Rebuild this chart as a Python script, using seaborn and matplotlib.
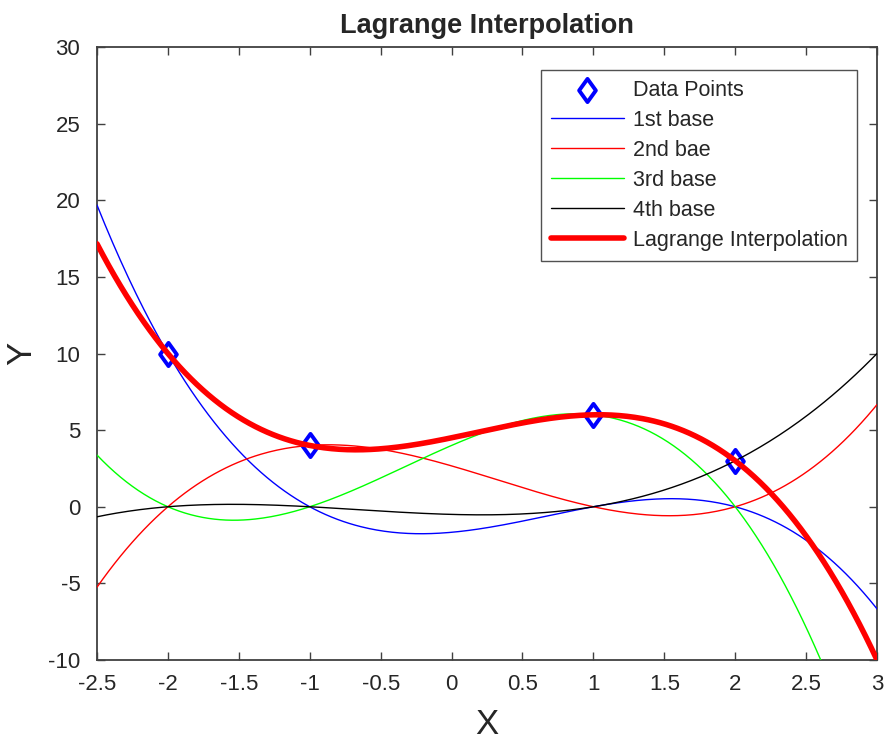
import numpy as np
import pandas as pd
import matplotlib
matplotlib.use("Agg")
import matplotlib.pyplot as plt
from matplotlib.path import Path
import seaborn as sns

# Data points
x_pts = [-2, -1, 1, 2]
y_pts = [10, 4, 6, 3]
series_names = ["1st base", "2nd bae", "3rd base", "4th base"]
series_colors = ["#0000ff", "#ff0000", "#00ff00", "#000000"]
x_ticks = [-2.5, -2, -1.5, -1, -0.5, 0, 0.5, 1, 1.5, 2, 2.5, 3]
y_ticks = [-10, -5, 0, 5, 10, 15, 20, 25, 30]

sns.set_theme(style="white")
plt.rcParams['font.family'] = ['Liberation Sans', 'DejaVu Sans']

# Lagrange basis terms y_i * L_i(x) over the plotted domain
xs = np.linspace(-2.5, 3, 400)
frames = []
total = np.zeros_like(xs)
for i, (xi, yi) in enumerate(zip(x_pts, y_pts)):
    L = np.ones_like(xs)
    for j, xj in enumerate(x_pts):
        if j != i:
            L *= (xs - xj) / (xi - xj)
    term = yi * L
    total += term
    frames.append(pd.DataFrame({"x": xs, "y": term, "series": series_names[i]}))
df = pd.concat(frames)

diamond = Path([(0, 1), (0.72, 0), (0, -1), (-0.72, 0), (0, 1)],
               [Path.MOVETO, Path.LINETO, Path.LINETO, Path.LINETO, Path.CLOSEPOLY])

fig = plt.figure(figsize=(8.85, 7.45), dpi=100)
ax = fig.add_axes([0.1096, 0.1141, 0.8814, 0.8228])

sns.scatterplot(x=x_pts, y=y_pts, ax=ax, marker=diamond, s=280, facecolor="white",
                edgecolor="#0000ff", linewidth=2.8, label="Data Points", zorder=2)
sns.lineplot(data=df, x="x", y="y", hue="series", palette=series_colors,
             hue_order=series_names, ax=ax, linewidth=1.0, legend=True, zorder=3)
sns.lineplot(x=xs, y=total, ax=ax, color="#ff0000", linewidth=4,
             label="Lagrange Interpolation", zorder=4)

ax.set_xlim(-2.5, 3)
ax.set_ylim(-10, 30)
ax.set_xticks(x_ticks)
ax.set_xticklabels([f"{t:g}" for t in x_ticks])
ax.set_yticks(y_ticks)
ax.set_yticklabels([f"{t:g}" for t in y_ticks])
ax.tick_params(axis="both", direction="in", length=6, width=1, colors="#404040",
               labelsize=16, labelcolor="#262626", top=True, right=True,
               bottom=True, left=True)
ax.tick_params(axis="x", pad=10)
ax.tick_params(axis="y", pad=12)
for s in ax.spines.values():
    s.set_color("#404040")
    s.set_linewidth(1.3)
    s.set_visible(True)

ax.set_xlabel("X", fontsize=25)
ax.set_ylabel("Y", fontsize=25)
ax.xaxis.set_label_coords(0.5, -0.106, transform=ax.transAxes)
ax.yaxis.set_label_coords(-0.096, 0.5, transform=ax.transAxes)
ax.xaxis.label.set_va("center")
ax.yaxis.label.set_va("center")
ax.set_title("Lagrange Interpolation", fontsize=19.5, fontweight="bold", pad=10)

handles, labels = ax.get_legend_handles_labels()
order = ["Data Points"] + series_names + ["Lagrange Interpolation"]
hmap = dict(zip(labels, handles))
leg = ax.legend([hmap[l] for l in order], order, loc="upper right",
                bbox_to_anchor=(0.9745, 0.9625), fontsize=15.5, frameon=True,
                fancybox=False, edgecolor="#262626", handlelength=3.4,
                handletextpad=0.4, borderpad=0.45, labelspacing=0.42,
                borderaxespad=0)
leg.get_frame().set_linewidth(1.0)

fig.savefig("out.png", dpi=100)
